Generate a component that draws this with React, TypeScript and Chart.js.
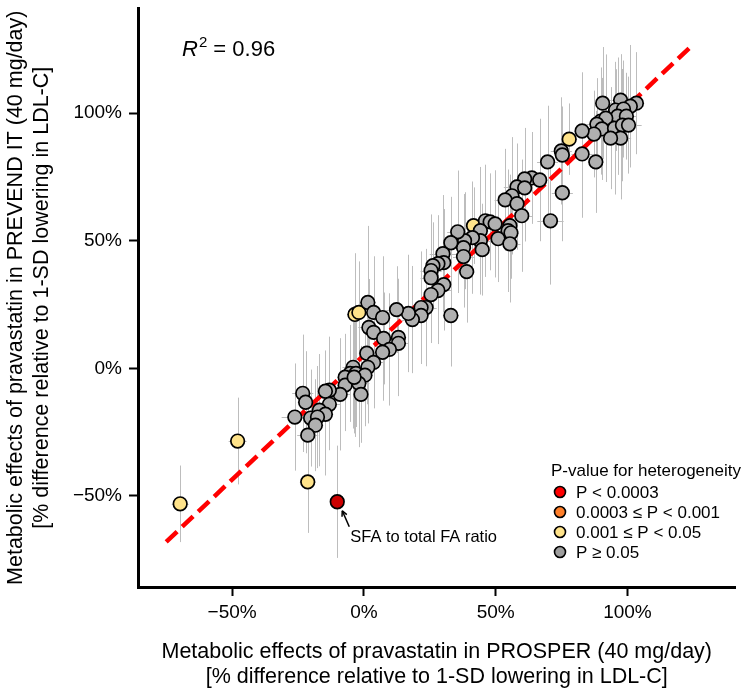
import React, { useEffect, useRef } from "react";
import { Chart, registerables } from "chart.js";

Chart.register(...registerables);

// ---- axis setup ----
const axisMin = -85.7;
const axisMax = 141;
const tickValues = [-50, 0, 50, 100];
const tickLabels = ["−50%", "0%", "50%", "100%"];

// ---- grey points (P >= 0.05) ----
const greyX = [
  90.6, 97.4, 103.4, 101.1, 95.5, 98.5, 96.3, 99.6, 89.9, 91.8, 88.4, 90.3, 95.1, 98.1, 100.4, 97.4, 93.6, 87.3, 82.8, 74.9, 75.3, 82.8, 88.0,
  69.7, 63.7, 61.0, 66.7, 58.1, 61.0, 75.3, 56.2, 53.6, 58.1, 59.9, 70.8,
  55.4, 54.7, 55.8, 46.1, 47.9, 49.8, 50.9, 55.4, 44.2, 44.2, 44.9, 41.2, 38.2, 35.6, 37.8,
  37.8, 33.0, 30.0, 30.3, 28.1, 26.2, 25.5, 39.0, 25.5, 30.3, 28.1, 25.5, 23.6, 33.0, 21.7,
  21.7, 18.4, 16.9, 12.4, 1.5, 3.7, 7.1, 1.9, 3.7, 7.5, 13.1, 13.1, 9.7, 7.1,
  1.1, 3.7, 1.5, -4.1, -5.2, -3.0, -7.1, -3.4, 0.4, -1.9, -7.1, -9.0, -1.1, -13.1, -14.6, -23.2, -22.1, -13.1, -16.9, -20.2, -14.6, -17.6, -26.2, -18.4, -21.3, -3.7,
];
const greyY = [
  103.9, 105.1, 103.9, 102.7, 101.2, 101.6, 98.8, 98.8, 96.9, 98.0, 95.7, 93.8, 94.1, 95.3, 95.3, 90.2, 90.2, 91.8, 93.0, 85.2, 83.6, 84.0, 80.9,
  80.9, 74.6, 74.2, 73.8, 71.1, 70.7, 68.8, 67.6, 66.0, 64.5, 59.8, 57.8,
  55.9, 53.9, 53.1, 57.8, 57.4, 56.6, 50.8, 48.8, 53.9, 50.0, 46.5, 51.2, 50.0, 53.5, 47.3,
  43.8, 49.2, 44.9, 41.4, 41.0, 40.2, 38.3, 37.9, 35.5, 32.8, 30.5, 28.9, 23.8, 20.7, 23.8,
  20.7, 19.1, 21.5, 23.0, 25.8, 21.9, 19.9, 16.0, 14.1, 11.7, 12.1, 9.8, 7.4, 6.3,
  5.9, 2.3, 0.4, 0.4, -2.0, -2.0, -3.5, -3.9, -2.7, -5.9, -6.6, -10.2, -10.2, -8.6, -9.0, -9.8, -13.3, -14.1, -16.4, -19.5, -18.0, -19.1, -19.1, -22.3, -26.2, -3.5,
];
const greyYErr = [
  22, 18, 20, 24, 16, 19, 23, 17, 21, 25, 18, 20, 26, 22, 19, 24, 20, 17, 23, 21, 19, 25, 20,
  22, 18, 20, 24, 17, 21, 19, 23, 20, 18, 22, 25,
  20, 24, 18, 22, 19, 21, 17, 23, 25, 20, 18, 22, 19, 24, 21,
  20, 18, 23, 21, 19, 17, 22, 20, 24, 18, 21, 19, 23, 20, 22,
  19, 21, 23, 17, 30, 22, 24, 19, 21, 18, 23, 20, 22, 19,
  20, 18, 22, 24, 19, 21, 17, 23, 20, 25, 18, 22, 19, 21, 16, 23, 20, 18, 22, 19, 24, 20, 21, 18, 17, 22,
];
const greyXErr = [
  3, 4, 3, 5, 3, 4, 3, 4, 3, 5, 4, 3, 4, 3, 5, 4, 3, 4, 3, 4, 3, 4, 3,
  4, 3, 4, 3, 5, 3, 4, 3, 4, 3, 4, 5,
  3, 4, 3, 4, 3, 5, 3, 4, 3, 4, 3, 4, 3, 4, 3,
  4, 3, 5, 3, 4, 3, 4, 3, 4, 3, 5, 3, 4, 3, 4,
  3, 4, 3, 4, 3, 4, 3, 4, 3, 4, 3, 4, 3, 4,
  3, 4, 3, 4, 3, 4, 3, 5, 3, 4, 3, 4, 3, 4, 3, 4, 3, 4, 3, 4, 3, 4, 5, 3, 4, 3,
];

// ---- yellow points (0.001 <= P < 0.05) ----
const yellowX = [77.9, 41.6, -3.4, -1.9, -69.7, -47.9, -21.3];
const yellowY = [89.8, 55.9, 21.1, 21.9, -53.1, -28.5, -44.5];
const yellowYErr = [14, 15, 24, 20, 15, 17, 20];
const yellowXErr = [3, 3, 3, 3, 3.2, 3.4, 3];

// ---- red point (P < 0.0003) : SFA to total FA ratio ----
const redX = [-10.1];
const redY = [-52.3];
const redYErr = [22];
const redXErr = [2.6];

// ---- fitted line ----
const lineX = [-75, 125];
const lineY = [-68, 127];

// ---- legend ----
const legendTitle = "P-value for heterogeneity";
const legendLabels = ["P < 0.0003", "0.0003 ≤ P < 0.001", "0.001 ≤ P < 0.05", "P ≥ 0.05"];
const legendColors = ["#ff0000", "#ff7f2a", "#ffe38a", "#9e9e9e"];

const FONT = "'Liberation Sans', Arial, Helvetica, sans-serif";

const toPts = (xs: number[], ys: number[]) => xs.map((x, i) => ({ x, y: ys[i] }));

const errorBarPlugin = {
  id: "errorBars",
  beforeDatasetsDraw(chart: any) {
    const { ctx, chartArea } = chart;
    const xs = chart.scales.x;
    const ys = chart.scales.y;
    ctx.save();
    ctx.beginPath();
    ctx.rect(chartArea.left, chartArea.top, chartArea.right - chartArea.left, chartArea.bottom - chartArea.top);
    ctx.clip();
    ctx.strokeStyle = "#bdbdbd";
    ctx.lineWidth = 1;
    chart.data.datasets.forEach((ds: any) => {
      if (!ds.yErr) return;
      ds.data.forEach((p: any, i: number) => {
        const px = Math.round(xs.getPixelForValue(p.x)) + 0.5;
        const py = Math.round(ys.getPixelForValue(p.y)) + 0.5;
        ctx.beginPath();
        ctx.moveTo(px, ys.getPixelForValue(p.y - ds.yErr[i]));
        ctx.lineTo(px, ys.getPixelForValue(p.y + ds.yErr[i]));
        ctx.moveTo(xs.getPixelForValue(p.x - ds.xErr[i]), py);
        ctx.lineTo(xs.getPixelForValue(p.x + ds.xErr[i]), py);
        ctx.stroke();
      });
    });
    ctx.restore();
  },
};

const annotationPlugin = {
  id: "annotations",
  afterDraw(chart: any) {
    const { ctx } = chart;
    const xs = chart.scales.x;
    const ys = chart.scales.y;
    ctx.save();
    // R^2
    ctx.fillStyle = "#000";
    ctx.textBaseline = "alphabetic";
    ctx.textAlign = "left";
    ctx.font = `italic 22px ${FONT}`;
    const rx = 182;
    const ry = 56;
    ctx.fillText("R", rx, ry);
    const rw = ctx.measureText("R").width;
    ctx.font = `15px ${FONT}`;
    ctx.fillText("2", rx + rw + 1, ry - 9);
    const tw = ctx.measureText("2").width;
    ctx.font = `22px ${FONT}`;
    ctx.fillText(" = 0.96", rx + rw + tw + 1, ry);

    // SFA annotation with arrow
    const px = xs.getPixelForValue(redX[0]);
    const py = ys.getPixelForValue(redY[0]);
    const tipX = px + 5;
    const tipY = py + 9;
    const tailX = px + 12;
    const tailY = py + 25;
    ctx.strokeStyle = "#000";
    ctx.lineWidth = 1.5;
    ctx.beginPath();
    ctx.moveTo(tailX, tailY);
    ctx.lineTo(tipX, tipY);
    ctx.stroke();
    const ang = Math.atan2(tipY - tailY, tipX - tailX);
    const ah = 6;
    ctx.beginPath();
    ctx.moveTo(tipX, tipY);
    ctx.lineTo(tipX - ah * Math.cos(ang - 0.45), tipY - ah * Math.sin(ang - 0.45));
    ctx.moveTo(tipX, tipY);
    ctx.lineTo(tipX - ah * Math.cos(ang + 0.45), tipY - ah * Math.sin(ang + 0.45));
    ctx.stroke();
    ctx.font = `16.5px ${FONT}`;
    ctx.textBaseline = "middle";
    ctx.fillText("SFA to total FA ratio", px + 13, py + 36);

    // Legend
    ctx.font = `17px ${FONT}`;
    ctx.fillText(legendTitle, 551, 471);
    const rows = [492, 512, 532, 552];
    legendLabels.forEach((lab, i) => {
      ctx.beginPath();
      ctx.arc(560, rows[i], 5.5, 0, Math.PI * 2);
      ctx.fillStyle = legendColors[i];
      ctx.fill();
      ctx.lineWidth = 1.6;
      ctx.strokeStyle = "#000";
      ctx.stroke();
      ctx.fillStyle = "#000";
      ctx.fillText(lab, 576, rows[i] + 1);
    });
    ctx.restore();
  },
};

export default function App() {
  const ref = useRef<HTMLCanvasElement | null>(null);

  useEffect(() => {
    if (!ref.current) return;
    const pointStyle = {
      pointRadius: 6.8,
      pointHoverRadius: 6.8,
      pointBorderWidth: 1.7,
      pointBorderColor: "#000",
      showLine: false,
    };
    const chart = new Chart(ref.current, {
      type: "scatter",
      data: {
        datasets: [
          {
            type: "line",
            label: "fit",
            data: toPts(lineX, lineY),
            borderColor: "#ff0000",
            borderWidth: 4.5,
            borderDash: [15, 7],
            pointRadius: 0,
            fill: false,
            order: 10,
          } as any,
          {
            label: "0.001 ≤ P < 0.05",
            data: toPts(yellowX, yellowY),
            backgroundColor: "#ffe38a",
            pointBackgroundColor: "#ffe38a",
            yErr: yellowYErr,
            xErr: yellowXErr,
            order: 5,
            ...pointStyle,
          } as any,
          {
            label: "P ≥ 0.05",
            data: toPts(greyX, greyY),
            backgroundColor: "#b0b0b0",
            pointBackgroundColor: "#b0b0b0",
            yErr: greyYErr,
            xErr: greyXErr,
            order: 3,
            ...pointStyle,
          } as any,
          {
            label: "P < 0.0003",
            data: toPts(redX, redY),
            backgroundColor: "#cc0000",
            pointBackgroundColor: "#cc0000",
            yErr: redYErr,
            xErr: redXErr,
            order: 1,
            ...pointStyle,
          } as any,
        ],
      },
      options: {
        animation: false,
        responsive: true,
        maintainAspectRatio: false,
        layout: { padding: { top: 8, right: 0, left: 0, bottom: 0 } },
        plugins: {
          legend: { display: false },
          tooltip: { enabled: false },
        },
        scales: {
          x: {
            type: "linear",
            min: axisMin,
            max: axisMax,
            afterFit: (s: any) => {
              s.height = 106;
              s.paddingLeft = 0;
              s.paddingRight = 0;
            },
            afterBuildTicks: (s: any) => {
              s.ticks = tickValues.map((v) => ({ value: v }));
            },
            ticks: {
              color: "#000",
              font: { family: FONT, size: 19 },
              padding: 5,
              maxRotation: 0,
              callback: (v: any) => tickLabels[tickValues.indexOf(Number(v))] ?? "",
            },
            grid: {
              drawOnChartArea: false,
              drawTicks: true,
              tickLength: 9,
              tickWidth: 2,
              tickColor: "#000",
            },
            border: { display: true, color: "#000", width: 3 },
            title: {
              display: true,
              text: [
                "Metabolic effects of pravastatin in PROSPER (40 mg/day)",
                "[% difference relative to 1-SD lowering in LDL-C]",
              ],
              color: "#000",
              font: { family: FONT, size: 21.5, lineHeight: 1.17 },
              padding: { top: 0, bottom: 3 },
            },
          },
          y: {
            type: "linear",
            min: axisMin,
            max: axisMax,
            afterFit: (s: any) => {
              s.width = 138;
              s.paddingTop = 0;
              s.paddingBottom = 0;
            },
            afterBuildTicks: (s: any) => {
              s.ticks = tickValues.map((v) => ({ value: v }));
            },
            ticks: {
              color: "#000",
              font: { family: FONT, size: 19 },
              padding: 7,
              callback: (v: any) => tickLabels[tickValues.indexOf(Number(v))] ?? "",
            },
            grid: {
              drawOnChartArea: false,
              drawTicks: true,
              tickLength: 9,
              tickWidth: 2,
              tickColor: "#000",
            },
            border: { display: true, color: "#000", width: 3 },
            title: {
              display: true,
              text: [
                "Metabolic effects of pravastatin in PREVEND IT (40 mg/day)",
                "[% difference relative to 1-SD lowering in LDL-C]",
              ],
              color: "#000",
              font: { family: FONT, size: 21.5, lineHeight: 1.17 },
              padding: { top: 4, bottom: 0 },
            },
          },
        },
      },
      plugins: [errorBarPlugin, annotationPlugin],
    } as any);
    return () => chart.destroy();
  }, []);

  return (
    <div style={{ position: "fixed", left: 0, top: 0, width: 744, height: 693, background: "#fff" }}>
      <canvas ref={ref} />
    </div>
  );
}
